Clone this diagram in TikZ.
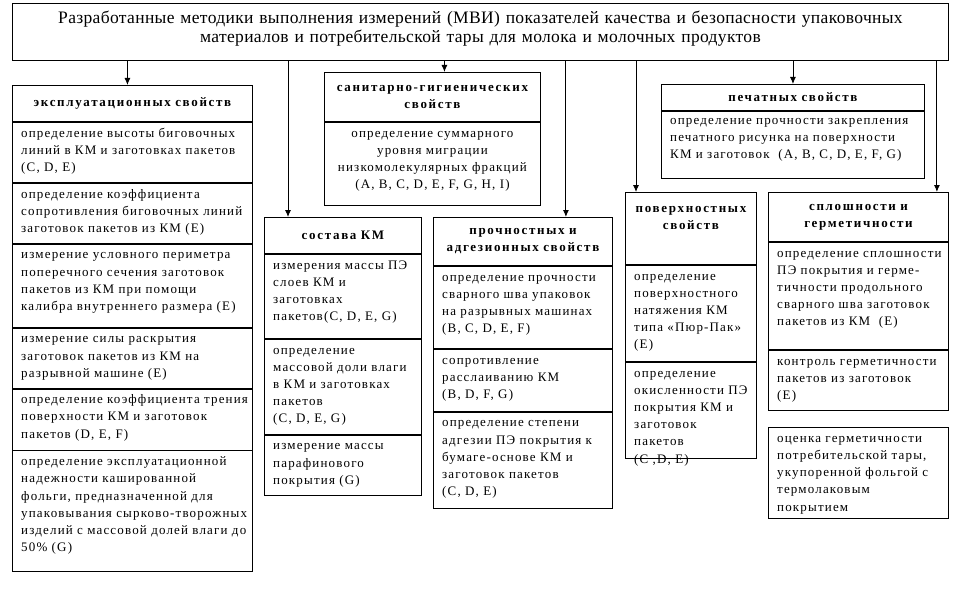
\documentclass[tikz,border=0pt]{standalone}
\usepackage{fontspec}
\setmainfont{Liberation Serif}[LetterSpace=9, BoldFeatures={LetterSpace=13}]
\newfontfamily\titlefamily{Liberation Serif}[LetterSpace=2]
\usepackage{tikz}
\usetikzlibrary{arrows.meta, positioning, calc}

\newcommand{\bodysize}{\fontsize{13pt}{17.2pt}\selectfont}

\tikzset{
  box/.style={draw, line width=0.9pt, anchor=north west, inner xsep=9pt},
  head/.style={box, align=center, inner ysep=0pt, font=\bodysize\bfseries, text width=#1},
  cell/.style={box, inner sep=0pt, minimum width=#1},
  txt/.style={anchor=north west, align=left, inner xsep=9pt, inner ysep=3pt,
              text height=12pt, text width=300pt},
  arr/.style={line width=0.9pt, -{Latex[length=7pt,width=6pt]}}
}

\begin{document}
\begin{tikzpicture}[x=1pt, y=-1pt, font=\bodysize]
\useasboundingbox[fill=white] (0,0) rectangle (961,602);

% title
\node[box, inner xsep=5pt, inner ysep=3pt, text width=926pt, align=center,
      text height=17pt, text depth=34pt,
      font=\titlefamily\fontsize{17.5pt}{19pt}\selectfont] (top) at (12,3)
  {Разработанные методики выполнения измерений (МВИ) показателей качества и безопасности упаковочных\\
   материалов и потребительской тары для молока и молочных продуктов};

% эксплуатационные свойства
\node[head=222pt, minimum height=36pt] (eh) at (12,85) {эксплуатационных свойств};
\node[cell=240pt, minimum height=60pt] (e1) at (eh.south west) {};
\node[txt] (e1t) at (e1.north west)
  {определение высоты биговочных\\линий в КМ и заготовках пакетов\\(C, D, E)};
\node[cell=240pt, minimum height=60pt] (e2) at (e1.south west) {};
\node[txt] (e2t) at (e2.north west)
  {определение коэффициента\\сопротивления биговочных линий\\заготовок пакетов из КМ (E)};
\node[cell=240pt, minimum height=83pt] (e3) at (e2.south west) {};
\node[txt] (e3t) at (e3.north west)
  {измерение условного периметра\\поперечного сечения заготовок\\пакетов из КМ при помощи\\калибра внутреннего размера (E)};
\node[cell=240pt, minimum height=60pt] (e4) at (e3.south west) {};
\node[txt] (e4t) at (e4.north west)
  {измерение силы раскрытия\\заготовок пакетов из КМ на\\разрывной машине (E)};
\node[cell=240pt, minimum height=61pt] (e5) at (e4.south west) {};
\node[txt] (e5t) at (e5.north west)
  {определение коэффициента трения\\поверхности КМ и заготовок\\пакетов (D, E, F)};
\node[cell=240pt, minimum height=121pt] (e6) at (e5.south west) {};
\node[txt] (e6t) at (e6.north west)
  {определение эксплуатационной\\надежности кашированной\\фольги, предназначенной для\\упаковывания сырково-творожных\\изделий с массовой долей влаги до\\50\% (G)};

% санитарно-гигиенические свойства
\node[head=198pt, minimum height=49pt] (sh) at (324,72) {санитарно-гигиенических\\свойств};
\node[cell=216pt, minimum height=83pt] (s1) at (sh.south west) {};
\node[txt, anchor=north, align=center] (s1t) at (s1.north)
  {определение суммарного\\уровня миграции\\низкомолекулярных фракций\\(A, B, C, D, E, F, G, H, I)};

% состав КМ
\node[head=139pt, minimum height=36pt] (ch) at (264,217) {состава КМ};
\node[cell=157pt, minimum height=84pt] (c1) at (ch.south west) {};
\node[txt] (c1t) at (c1.north west)
  {измерения массы ПЭ\\слоев КМ и\\заготовках\\пакетов(C, D, E, G)};
\node[cell=157pt, minimum height=95pt] (c2) at (c1.south west) {};
\node[txt] (c2t) at (c2.north west)
  {определение\\массовой доли влаги\\в КМ и заготовках\\пакетов\\(C, D, E, G)};
\node[cell=157pt, minimum height=60pt] (c3) at (c2.south west) {};
\node[txt] (c3t) at (c3.north west)
  {измерение массы\\парафинового\\покрытия (G)};

% прочностные и адгезионные свойства
\node[head=161pt, minimum height=48pt] (ph) at (433,217) {прочностных и\\адгезионных свойств};
\node[cell=179pt, minimum height=82pt] (p1) at (ph.south west) {};
\node[txt] (p1t) at (p1.north west)
  {определение прочности\\сварного шва упаковок\\на разрывных машинах\\(B, C, D, E, F)};
\node[cell=179pt, minimum height=62pt] (p2) at (p1.south west) {};
\node[txt] (p2t) at (p2.north west)
  {сопротивление\\расслаиванию КМ\\(B, D, F, G)};
\node[cell=179pt, minimum height=96pt] (p3) at (p2.south west) {};
\node[txt] (p3t) at (p3.north west)
  {определение степени\\адгезии ПЭ покрытия к\\бумаге-основе КМ и\\заготовок пакетов\\(C, D, E)};

% поверхностные свойства
\node[head=113pt, text height=20pt, text depth=52pt] (vh) at (625,192) {поверхностных\\свойств};
\node[cell=131pt, minimum height=96pt] (v1) at (vh.south west) {};
\node[txt] (v1t) at (v1.north west)
  {определение\\поверхностного\\натяжения КМ\\типа «Пюр-Пак»\\(E)};
\node[cell=131pt, minimum height=96pt] (v2) at (v1.south west) {};
\node[txt] (v2t) at (v2.north west)
  {определение\\окисленности ПЭ\\покрытия КМ и\\заготовок\\пакетов\\(C ,D, E)};

% печатные свойства
\node[head=245pt, minimum height=26pt] (rh) at (661,84) {печатных свойств};
\node[cell=263pt, minimum height=67pt] (r1) at (rh.south west) {};
\node[txt, inner ysep=1pt] (r1t) at (r1.north west)
  {определение прочности закрепления\\печатного рисунка на поверхности\\КМ и заготовок~~(A, B, C, D, E, F, G)};

% сплошность и герметичность
\node[head=162pt, minimum height=49pt] (gh) at (768,192) {сплошности и\\герметичности};
\node[cell=180pt, minimum height=107pt] (g1) at (gh.south west) {};
\node[txt] (g1t) at (g1.north west)
  {определение сплошности\\ПЭ покрытия и герме-\\тичности продольного\\сварного шва заготовок\\пакетов из КМ~~(E)};
\node[cell=180pt, minimum height=60pt] (g2) at (g1.south west) {};
\node[txt] (g2t) at (g2.north west)
  {контроль герметичности\\пакетов из заготовок\\(E)};
\node[cell=180pt, minimum height=91pt] (g3) at (768,427) {};
\node[txt] (g3t) at (g3.north west)
  {оценка герметичности\\потребительской тары,\\укупоренной фольгой с\\термолаковым\\покрытием};

% arrows from the title
\coordinate (a1) at ([xshift=-5pt]eh.north);
\coordinate (a2) at ([xshift=24pt]ch.north west);
\coordinate (a3) at ([xshift=12pt]sh.north);
\coordinate (a4) at ([xshift=-47pt]ph.north east);
\coordinate (a5) at ([xshift=11pt]vh.north west);
\coordinate (a6) at (rh.north);
\coordinate (a7) at ([xshift=-12pt]gh.north east);
\foreach \a in {a1,a2,a3,a4,a5,a6,a7}
  \draw[arr] (top.south -| \a) -- (\a);
\end{tikzpicture}
\end{document}
